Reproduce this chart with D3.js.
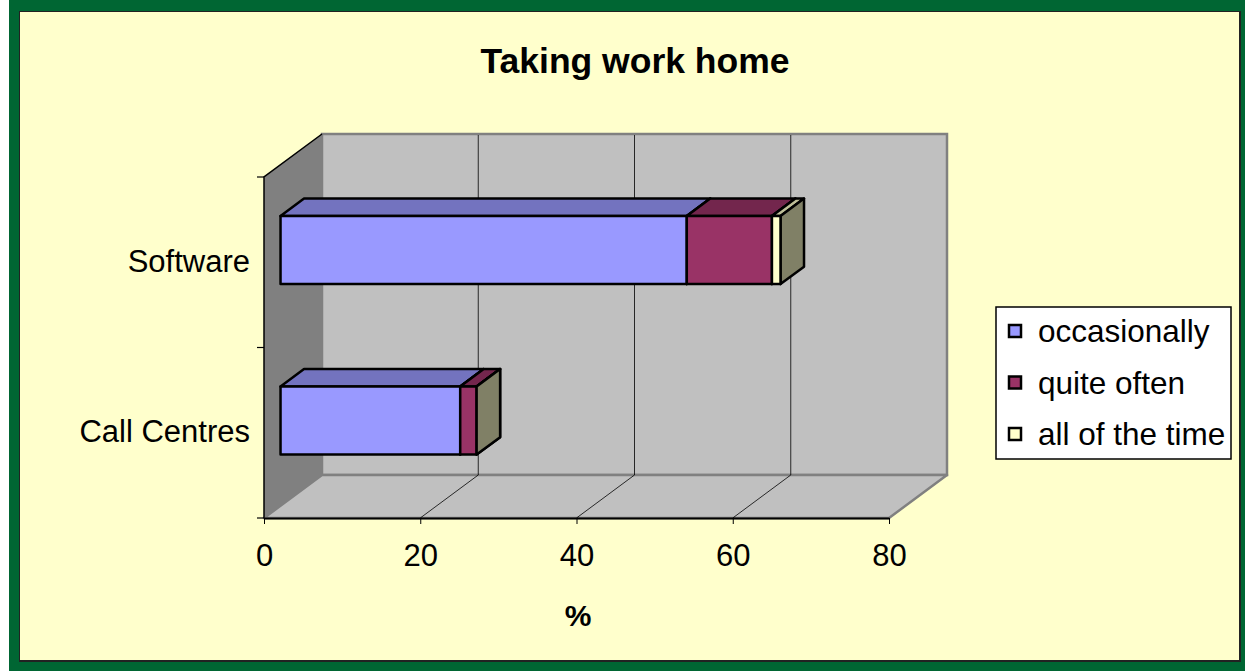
<!DOCTYPE html>
<html>
<head>
<meta charset="utf-8">
<script src="https://cdn.jsdelivr.net/npm/d3@7"></script>
<style>
  html, body { margin: 0; padding: 0; background: #fff; }
  svg text { font-family: "Liberation Sans", Arial, sans-serif; fill: #000; }
</style>
</head>
<body>
<div id="chart"></div>
<script>
// chart data
var categories = ["Software", "Call Centres"];
var seriesNames = ["occasionally", "quite often", "all of the time"];
var occasionally = [52, 23];
var quiteOften = [10.9, 2.1];
var allOfTheTime = [1.1, 0];
var xTicks = [0, 20, 40, 60, 80];

var fills = ["#9999FF", "#993366", "#FFFFCC"];
var tops = ["#7373BF", "#73264D", "#BFBF99"];
var sides = ["#5C5C99", "#5C1F3D", "#808066"];

var W = 1245, H = 671;
var depth = { x: 58, y: -43 };      // 3d depth of the plot box
var barFront = 0.285, barBack = 0.69; // bar position inside the depth

var svg = d3.select("#chart").append("svg")
    .attr("width", W)
    .attr("height", H);

// frame
svg.append("rect").attr("x", 9).attr("y", 0).attr("width", W - 9).attr("height", H).attr("fill", "#006633");
svg.append("rect").attr("x", 19).attr("y", 11).attr("width", 1222).attr("height", 651).attr("fill", "#222");
svg.append("rect").attr("x", 20).attr("y", 12).attr("width", 1219).attr("height", 648).attr("fill", "#FFFFCC");

var x = d3.scaleLinear().domain([0, 80]).range([264, 889]);
var y = d3.scaleBand().domain(categories).range([177, 518]).paddingInner(0.6).paddingOuter(0.3);

var x0 = x.range()[0], x1 = x.range()[1];
var yTop = y.range()[0], yBot = y.range()[1];

// walls
svg.append("rect")
    .attr("x", x0 + depth.x).attr("y", yTop + depth.y)
    .attr("width", x1 - x0).attr("height", yBot - yTop)
    .attr("fill", "#C0C0C0").attr("stroke", "#808080").attr("stroke-width", 2.5);

svg.append("path")
    .attr("d", d3.line()([[x0, yBot], [x1, yBot], [x1 + depth.x, yBot + depth.y], [x0 + depth.x, yBot + depth.y]]) + "Z")
    .attr("fill", "#C0C0C0").attr("stroke", "#808080").attr("stroke-width", 2.5).attr("stroke-linejoin", "round");

svg.append("path")
    .attr("d", d3.line()([[x0, yTop], [x0 + depth.x, yTop + depth.y], [x0 + depth.x, yBot + depth.y], [x0, yBot]]) + "Z")
    .attr("fill", "#808080");
svg.append("path")
    .attr("d", d3.line()([[x0, yBot], [x0, yTop], [x0 + depth.x, yTop + depth.y]]))
    .attr("fill", "none").attr("stroke", "#000").attr("stroke-width", 1.5);

// gridlines
var grid = xTicks.filter(function (d) { return d > 0 && d < 80; });
svg.selectAll(".gridBack").data(grid).enter().append("line")
    .attr("x1", function (d) { return x(d) + depth.x; })
    .attr("x2", function (d) { return x(d) + depth.x; })
    .attr("y1", yTop + depth.y + 1)
    .attr("y2", yBot + depth.y)
    .attr("stroke", "#000").attr("stroke-width", 0.8);
svg.selectAll(".gridFloor").data(grid).enter().append("line")
    .attr("x1", function (d) { return x(d); })
    .attr("x2", function (d) { return x(d) + depth.x; })
    .attr("y1", yBot)
    .attr("y2", yBot + depth.y)
    .attr("stroke", "#000").attr("stroke-width", 0.8);

// x axis
var xAxis = svg.append("g")
    .attr("transform", "translate(0," + yBot + ")")
    .call(d3.axisBottom(x).tickValues(xTicks).tickSize(6).tickPadding(20).tickSizeOuter(0));
xAxis.select(".domain").attr("stroke", "#000").attr("stroke-width", 2);
xAxis.selectAll("text").style("font-size", "31px").attr("fill", "#000");
xAxis.selectAll("line").attr("stroke", "#000");

// category axis
var yAxis = svg.append("g")
    .attr("transform", "translate(" + x0 + ",0)")
    .call(d3.axisLeft(y).tickSize(0).tickPadding(14));
yAxis.select(".domain").remove();
yAxis.selectAll("text").style("font-size", "31px").attr("dy", "0.3em").attr("fill", "#000");

var bounds = [yTop, (yTop + yBot) / 2, yBot];
svg.selectAll(".catTick").data(bounds).enter().append("line")
    .attr("x1", x0 - 7).attr("x2", x0)
    .attr("y1", function (d) { return d; }).attr("y2", function (d) { return d; })
    .attr("stroke", "#000").attr("stroke-width", 1.2);

// stacked 3d bars
var table = categories.map(function (c, i) {
    return { cat: c, s0: occasionally[i], s1: quiteOften[i], s2: allOfTheTime[i] };
});
var stack = d3.stack().keys(["s0", "s1", "s2"]);
var layers = stack(table);

var fdx = depth.x * barFront, fdy = depth.y * barFront;
var bdx = depth.x * (barBack - barFront), bdy = depth.y * (barBack - barFront);

var barG = svg.append("g");
table.forEach(function (row, ci) {
    layers.forEach(function (layer, si) {
        var d = layer[ci];
        var xa = x(d[0]) + fdx, xb = x(d[1]) + fdx;
        var ya = y(row.cat) + fdy, yb = ya + y.bandwidth();
        var g = barG.append("g")
            .attr("stroke", "#000").attr("stroke-width", 2.5).attr("stroke-linejoin", "round");
        // top
        g.append("path")
            .attr("d", d3.line()([[xa, ya], [xb, ya], [xb + bdx, ya + bdy], [xa + bdx, ya + bdy]]) + "Z")
            .attr("fill", tops[si]);
        // side
        g.append("path")
            .attr("d", d3.line()([[xb, ya], [xb + bdx, ya + bdy], [xb + bdx, yb + bdy], [xb, yb]]) + "Z")
            .attr("fill", sides[si]);
        // front
        if (xb > xa) {
            g.append("rect")
                .attr("x", xa).attr("y", ya)
                .attr("width", xb - xa).attr("height", yb - ya)
                .attr("fill", fills[si]);
        }
    });
});

// titles
svg.append("text")
    .attr("x", 635).attr("y", 73)
    .attr("text-anchor", "middle")
    .style("font-size", "35.5px").style("font-weight", "bold")
    .text("Taking work home");

svg.append("text")
    .attr("x", 578).attr("y", 626)
    .attr("text-anchor", "middle")
    .style("font-size", "30px").style("font-weight", "bold")
    .text("%");

// legend
var legend = svg.append("g").attr("transform", "translate(996,307)");
legend.append("rect")
    .attr("width", 235).attr("height", 152)
    .attr("fill", "#fff").attr("stroke", "#000").attr("stroke-width", 1.5);
var items = legend.selectAll(".item").data(seriesNames).enter().append("g")
    .attr("transform", function (d, i) { return "translate(13," + (24 + i * 51.5) + ")"; });
items.append("rect")
    .attr("x", 0).attr("y", -6).attr("width", 12).attr("height", 12)
    .attr("fill", function (d, i) { return fills[i]; })
    .attr("stroke", "#000").attr("stroke-width", 2.5);
items.append("text")
    .attr("x", 29).attr("y", 0).attr("dy", "0.35em")
    .style("font-size", "31.5px")
    .text(function (d) { return d; });
</script>
</body>
</html>
